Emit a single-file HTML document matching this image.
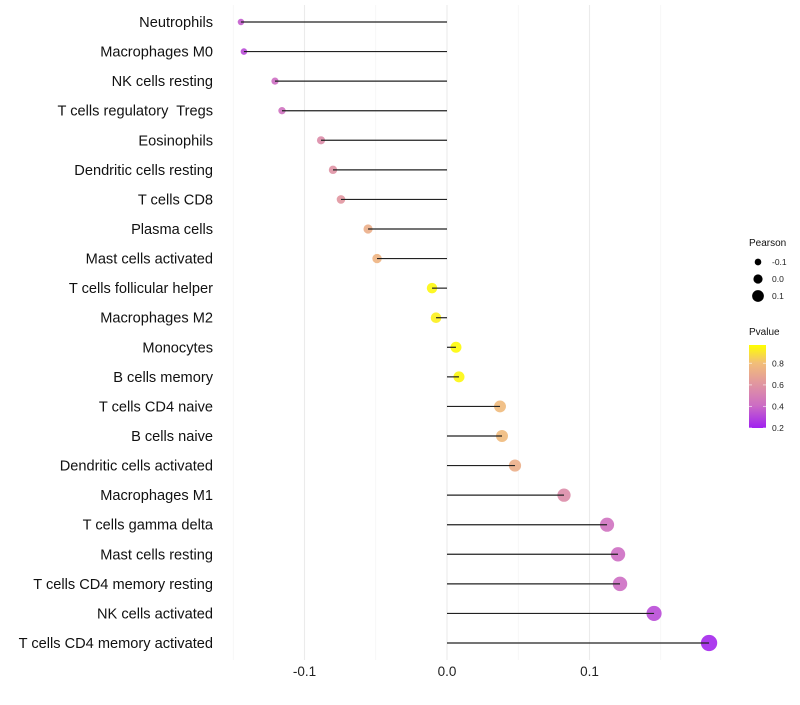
<!DOCTYPE html>
<html><head><meta charset="utf-8"><style>
body{margin:0;background:#fff;font-family:"Liberation Sans",sans-serif}
svg text{font-family:"Liberation Sans",sans-serif;white-space:pre}
</style></head><body>
<svg id="chart" width="800" height="700"></svg>
<script>
const categories=["Neutrophils","Macrophages M0","NK cells resting","T cells regulatory  Tregs","Eosinophils","Dendritic cells resting","T cells CD8","Plasma cells","Mast cells activated","T cells follicular helper","Macrophages M2","Monocytes","B cells memory","T cells CD4 naive","B cells naive","Dendritic cells activated","Macrophages M1","T cells gamma delta","Mast cells resting","T cells CD4 memory resting","NK cells activated","T cells CD4 memory activated"];
const pearson=[-0.1446,-0.1425,-0.1207,-0.1158,-0.0884,-0.080,-0.0744,-0.0554,-0.0491,-0.0105,-0.0077,0.0063,0.0084,0.0372,0.0386,0.0477,0.0821,0.1123,0.120,0.1214,0.1453,0.1839];
const pvalue=[0.35,0.3,0.4,0.42,0.55,0.58,0.6,0.72,0.75,0.95,0.93,0.96,0.95,0.78,0.78,0.72,0.55,0.42,0.4,0.4,0.3,0.2];
const xTicks=[-0.1,0.0,0.1];
const xTickLabels=["-0.1","0.0","0.1"];
const xMinor=[-0.15,-0.05,0.05,0.15];
const sizeLegend=[-0.1,0.0,0.1];
const pLegendTicks=[0.8,0.6,0.4,0.2];

const NS="http://www.w3.org/2000/svg";
const svg=document.getElementById('chart');
function mk(t,a,p){const e=document.createElementNS(NS,t);for(const k in a)e.setAttribute(k,a[k]);(p||svg).appendChild(e);return e;}
const xs=v=>447+v*1425;
const ys=i=>22+i*(643-22)/(categories.length-1);
const rs=p=>Math.max(2,5.4+15*p);
const stops=[[0.18,[160,32,240]],[0.4,[205,110,195]],[0.6,[225,150,160]],[0.8,[242,190,120]],[0.97,[255,255,0]]];
function col(p){if(p<=stops[0][0])return `rgb(${stops[0][1]})`;for(let i=1;i<stops.length;i++){if(p<=stops[i][0]){const a=stops[i-1],b=stops[i],t=(p-a[0])/(b[0]-a[0]);return `rgb(${a[1].map((c,j)=>Math.round(c+(b[1][j]-c)*t)).join(',')})`;}}return `rgb(${stops[stops.length-1][1]})`;}
const yPx=v=>345+(0.97-v)*(428-345)/(0.97-0.2);

xMinor.forEach(v=>{const g=mk('line',{x1:xs(v),x2:xs(v),y1:5,y2:660,stroke:'#f2f2f2','stroke-width':0.6});});
xTicks.forEach((v,i)=>{const g=mk('line',{x1:xs(v),x2:xs(v),y1:5,y2:660,stroke:'#ebebeb','stroke-width':1.1});
const t=mk('text',{x:xs(v),y:676,'text-anchor':'middle','font-size':13.5,fill:'#222'});t.textContent=xTickLabels[i];});

categories.forEach((c,i)=>{const y=ys(i);
const t=mk('text',{x:213,y:y+5,'text-anchor':'end','font-size':14.6,fill:'#111'});t.textContent=c;
const d=mk('circle',{cx:xs(pearson[i]),cy:y,r:rs(pearson[i]),fill:col(pvalue[i]),'fill-opacity':0.9});
const l=mk('line',{x1:xs(0),x2:xs(pearson[i]),y1:y,y2:y,stroke:'#222','stroke-width':1.2});
});

let t=mk('text',{x:749,y:246,'font-size':10,fill:'#111'});t.textContent='Pearson';
sizeLegend.forEach((v,i)=>{const y=262+i*17;const c=mk('circle',{cx:758,cy:y,r:rs(v)*0.85,fill:'#000'});
const tt=mk('text',{x:772,y:y+3,'font-size':8.5,fill:'#222'});tt.textContent=v===0?'0.0':String(v);});

t=mk('text',{x:749,y:335,'font-size':10,fill:'#111'});t.textContent='Pvalue';
const defs=mk('defs',{});const lg=mk('linearGradient',{id:'pg',x1:0,y1:1,x2:0,y2:0},defs);
stops.forEach(s=>mk('stop',{offset:(s[0]-0.18)/(0.97-0.18),'stop-color':`rgb(${s[1]})`},lg));
const bar=mk('rect',{x:749,y:345,width:17,height:83,fill:'url(#pg)'});
pLegendTicks.forEach(v=>{const y=yPx(v);mk('line',{x1:749,x2:752,y1:y,y2:y,stroke:'#fff','stroke-opacity':0.6});mk('line',{x1:763,x2:766,y1:y,y2:y,stroke:'#fff','stroke-opacity':0.6});
const tt=mk('text',{x:772,y:y+3,'font-size':8.5,fill:'#222'});tt.textContent=v.toFixed(1);});
</script>
</body></html>
